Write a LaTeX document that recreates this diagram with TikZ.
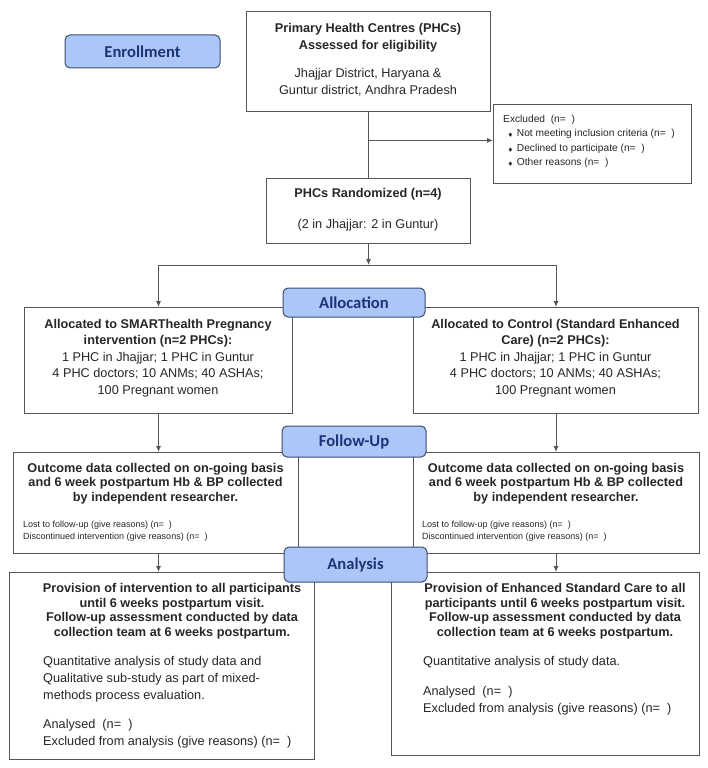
\documentclass[tikz,border=0pt]{standalone}
\usepackage{amssymb}
\usepackage{fontspec}
\setmainfont{Liberation Sans}
\newfontfamily\pillfont{Carlito}
\usetikzlibrary{arrows.meta,calc,positioning}
\definecolor{pillblue}{RGB}{170,199,247}
\definecolor{pillline}{RGB}{62,76,110}
\definecolor{pilltext}{RGB}{28,52,120}
\definecolor{boxline}{RGB}{85,85,85}
\newcommand{\dbul}{{\tiny$\blacklozenge$}}
\newcommand{\nblank}{(n=\ \ )}

\begin{document}
\begin{tikzpicture}[x=1pt,y=-1pt]
        \tikzstyle{box}=[draw=boxline, line width=1pt, rectangle, anchor=north west, inner sep=0pt]
        \tikzstyle{pill}=[draw=pillline, fill=pillblue, rounded corners=5pt, line width=1pt, inner sep=0pt, text=pilltext, font=\pillfont\bfseries\fontsize{16.6}{18}\selectfont]
        \tikzstyle{txt}=[inner sep=0pt, anchor=north, align=center, text=black!85]
        \tikzstyle{arr}=[draw=boxline, line width=1pt, -{Latex[length=6pt,width=5pt]}]
        \tikzstyle{link}=[draw=boxline, line width=1pt]

        \useasboundingbox (0,0) rectangle (708,768);

        % Boxes
        \node[box, minimum width=244pt, minimum height=100pt] (prim) at (246,11) {};
        \node[box, minimum width=204pt, minimum height=65pt] (rand) at (266,178) {};
        \node[box, minimum width=198pt, minimum height=79pt] (excl) at (493,104) {};
        \node[box, minimum width=268pt, minimum height=106pt] (alloc1) at (24,307) {};
        \node[box, minimum width=285pt, minimum height=106pt] (alloc2) at (413,307) {};
        \node[box, minimum width=285pt, minimum height=101pt] (out1) at (13,452) {};
        \node[box, minimum width=286pt, minimum height=101pt] (out2) at (413,452) {};
        \node[box, minimum width=305pt, minimum height=187pt] (prov1) at (9,572) {};
        \node[box, minimum width=308pt, minimum height=183pt] (prov2) at (391,572) {};

        % Texts in the boxes
        \node[txt, font=\fontsize{12.7}{17}\selectfont] (prim-t) at (368,23)
            {\textbf{Primary Health Centres (PHCs)}\\\textbf{Assessed for eligibility}\\[11pt]Jhajjar District, Haryana \&\\Guntur district, Andhra Pradesh};
        \node[txt, font=\fontsize{12.7}{17}\selectfont] (rand-t) at (368,188)
            {\textbf{PHCs Randomized (n=4)}\\[14pt](2 in Jhajjar: 2 in Guntur)};
        \node[txt, anchor=north west, align=left, font=\fontsize{10.2}{14.3}\selectfont] (excl-t) at (503,115)
            {Excluded\ \ \nblank\\
             \hspace{5pt}\dbul\hspace{4pt}Not meeting inclusion criteria \nblank\\
             \hspace{5pt}\dbul\hspace{4pt}Declined to participate \nblank\\
             \hspace{5pt}\dbul\hspace{4pt}Other reasons \nblank};
        \node[txt, font=\fontsize{12.7}{16.5}\selectfont] (alloc1-t) at (158,319)
            {\textbf{Allocated to SMARThealth Pregnancy}\\\textbf{intervention (n=2 PHCs):}\\1 PHC in Jhajjar; 1 PHC in Guntur\\4 PHC doctors; 10 ANMs; 40 ASHAs;\\100 Pregnant women};
        \node[txt, font=\fontsize{12.7}{16.5}\selectfont] (alloc2-t) at (555.5,319)
            {\textbf{Allocated to Control (Standard Enhanced}\\\textbf{Care) (n=2 PHCs):}\\1 PHC in Jhajjar; 1 PHC in Guntur\\4 PHC doctors; 10 ANMs; 40 ASHAs;\\100 Pregnant women};
        \node[txt, font=\bfseries\fontsize{12.7}{14.5}\selectfont] (out1-h) at (155.5,463)
            {Outcome data collected on on-going basis\\and 6 week postpartum Hb \& BP collected\\by independent researcher.};
        \node[txt, anchor=north west, align=left, font=\fontsize{9}{12}\selectfont] (out1-b) at (23,521)
            {Lost to follow-up (give reasons) \nblank\\Discontinued intervention (give reasons) \nblank};
        \node[txt, font=\bfseries\fontsize{12.7}{14.5}\selectfont] (out2-h) at (556,463)
            {Outcome data collected on on-going basis\\and 6 week postpartum Hb \& BP collected\\by independent researcher.};
        \node[txt, anchor=north west, align=left, font=\fontsize{9}{12}\selectfont] (out2-b) at (422,521)
            {Lost to follow-up (give reasons) \nblank\\Discontinued intervention (give reasons) \nblank};
        \node[txt, font=\bfseries\fontsize{12.7}{14.7}\selectfont] (prov1-h) at (172,583)
            {Provision of intervention to all participants\\until 6 weeks postpartum visit.\\Follow-up assessment conducted by data\\collection team at 6 weeks postpartum.};
        \node[txt, anchor=north west, align=left, font=\fontsize{12.7}{17}\selectfont] (prov1-b) at (43,656)
            {Quantitative analysis of study data and\\Qualitative sub-study as part of mixed-\\methods process evaluation.\\[12pt]Analysed\ \ \nblank\\Excluded from analysis (give reasons) \nblank};
        \node[txt, font=\bfseries\fontsize{12.7}{14.7}\selectfont] (prov2-h) at (555,583)
            {Provision of Enhanced Standard Care to all\\participants until 6 weeks postpartum visit.\\Follow-up assessment conducted by data\\collection team at 6 weeks postpartum.};
        \node[txt, anchor=north west, align=left, font=\fontsize{12.7}{17}\selectfont] (prov2-b) at (423,656)
            {Quantitative analysis of study data.\\[13pt]Analysed\ \ \nblank\\Excluded from analysis (give reasons) \nblank};

        % Connectors
        \coordinate (brk) at ($(prim.south)!0.43!(rand.north)$);
        \coordinate (split) at ($(rand.south)+(0,21)$);
        \draw[link] (prim.south) -- (rand.north);
        \draw[arr] (brk) -- (brk -| excl.west);
        \draw[arr] (rand.south) -- (split);
        \draw[link] (split -| alloc1.north) -- (split -| alloc2.north);
        \draw[arr] (split -| alloc1.north) -- (alloc1.north);
        \draw[arr] (split -| alloc2.north) -- (alloc2.north);
        \draw[arr] (alloc1.south) -- (alloc1.south |- out1.north);
        \draw[arr] (alloc2.south) -- (alloc2.south |- out2.north);
        \draw[arr] (alloc1.south |- out1.south) -- (alloc1.south |- prov1.north);
        \draw[arr] (alloc2.south |- out2.south) -- (alloc2.south |- prov2.north);

        % Stage labels
        \node[pill, minimum width=155pt, minimum height=33pt] (enrol) at (142.5,51.5) {Enrollment};
        \node[pill, minimum width=142pt, minimum height=29pt] (alloc) at (354,302.5) {Allocation};
        \node[pill, minimum width=144pt, minimum height=31pt] (follow) at (354,441.5) {Follow-Up};
        \node[pill, minimum width=143pt, minimum height=35pt] (anal) at (355.5,564.5) {Analysis};
\end{tikzpicture}
\end{document}
